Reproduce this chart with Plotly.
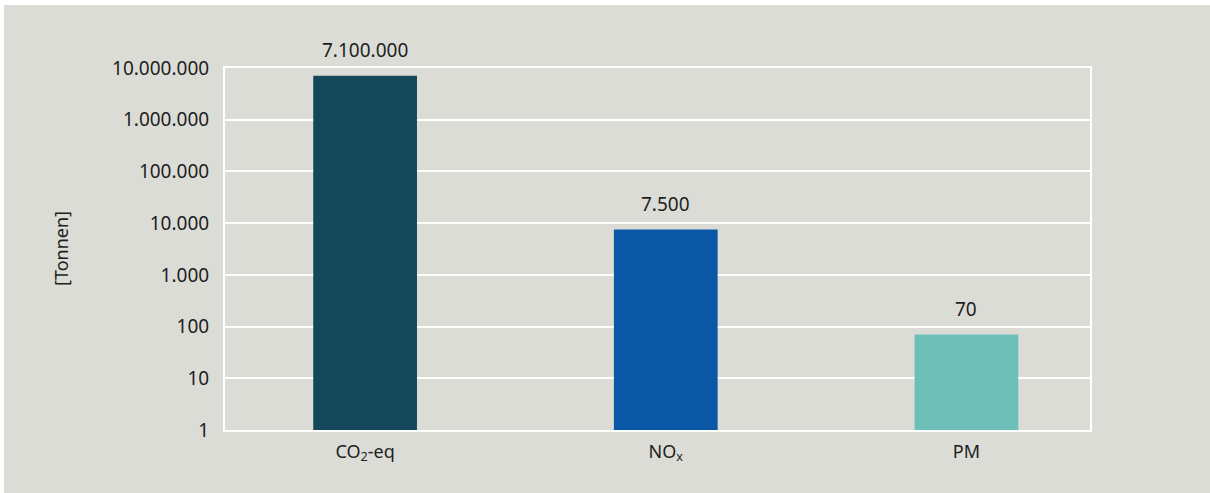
import math
import plotly.graph_objects as go

categories = ["CO<sub>2</sub>-eq", "NO<sub>x</sub>", "PM"]
values = [7100000, 7500, 70]
colors = ["#15475b", "#0a57a6", "#6fbfb9"]
tick_vals = [1, 10, 100, 1000, 10000, 100000, 1000000, 10000000]
tick_text = ["1", "10", "100", "1.000", "10.000", "100.000", "1.000.000", "10.000.000"]
value_labels = [f"{v:,}".replace(",", ".") for v in values]

BG = "#dcdcd6"
FONT = "Noto Sans"
TXT = "#1e1e1e"
FS = 19

# panel is offset on the white page by (OX, OY)
OX, OY = 4, 5
W, H = 1210 - OX, 493 - OY
L, R, T, B = 225 - OX, 120, 68 - OY, 63
pw = W - L - R

def px_x(p):
    return (p - OX - L) / pw

fig = go.Figure()
fig.add_trace(go.Bar(
    x=categories, y=values, marker=dict(color=colors, line=dict(width=0)),
    width=0.345, hoverinfo="skip",
))

for c, v, lab in zip(categories, values, value_labels):
    fig.add_annotation(x=c, y=math.log10(v), text=lab, showarrow=False, yanchor="middle",
                       yshift=26, font=dict(family=FONT, size=FS, color=TXT))

fig.add_annotation(xref="paper", yref="paper", x=px_x(61), y=0.5, text="[Tonnen]",
                   textangle=-90, showarrow=False, xanchor="center", yanchor="middle",
                   font=dict(family=FONT, size=18, color=TXT))

fig.update_layout(
    width=W, height=H, margin=dict(l=L, r=R, t=T, b=B, pad=0),
    paper_bgcolor=BG, plot_bgcolor=BG, showlegend=False,
    font=dict(family=FONT, size=FS, color=TXT),
    xaxis=dict(type="category", range=[-0.466, 2.411], showgrid=False,
               showline=True, linecolor="white", linewidth=2, mirror=True,
               ticks="outside", ticklen=4, tickcolor="rgba(0,0,0,0)",
               tickfont=dict(family=FONT, size=18, color=TXT)),
    yaxis=dict(type="log", range=[0, 7], tickvals=tick_vals, ticktext=tick_text,
               showgrid=True, gridcolor="white", gridwidth=2,
               showline=True, linecolor="white", linewidth=2, mirror=True,
               ticks="outside", ticklen=10, tickcolor="rgba(0,0,0,0)",
               zeroline=False, tickfont=dict(family=FONT, size=FS, color=TXT)),
)

post = (
    "document.body.style.margin='0';document.body.style.background='white';"
    "document.body.style.overflow='hidden';"
    "var d=document.getElementById('{plot_id}');"
    "d.style.position='absolute';d.style.left='%dpx';d.style.top='%dpx';" % (OX, OY)
)
fig.write_html("out.html", post_script=post)
